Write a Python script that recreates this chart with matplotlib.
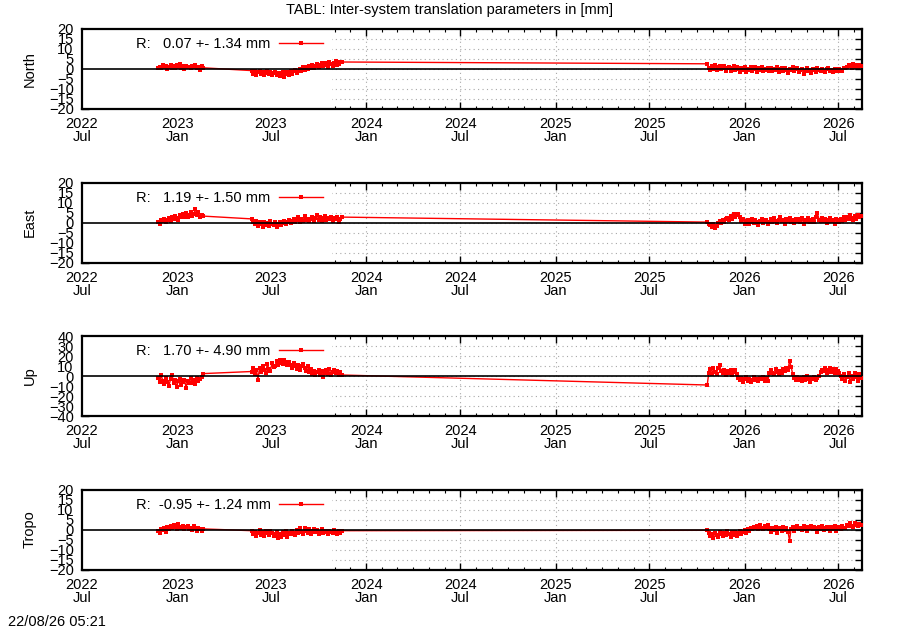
import numpy as np
import pandas as pd
import matplotlib
matplotlib.use('Agg')
import matplotlib.pyplot as plt
import matplotlib.dates as mdates

plt.rcParams['font.family'] = ['Liberation Sans', 'DejaVu Sans']

# three blocks of solutions, one sample every 3 days
seg_start = ['2022-11-25', '2023-05-25', '2025-10-21']
step_days = 3

north_a = [0.5, 1.2, 0.3, 1.8, 0.9, 1.5, 0.2, 1.1, 2.0, 0.7, 1.4, 0.4, 1.9, 1.0, 2.3,
           0.6, 1.3, 0.1, 1.7, 0.8, 1.2, 0.3, 1.6, 0.9, 2.1, 0.5, 1.0, -0.3, 1.4, 0.6]
north_b = [-0.8, -2.3, -1.2, -2.8, -1.6, -0.9, -2.5, -1.4, -3.0, -1.9, -1.1,
           -2.6, -1.5, -3.2, -2.0, -1.3, -2.9, -1.8, -3.6, -2.2, -1.4, -4.1, -2.5,
           -1.6, -3.0, -0.9, -2.4, -1.2, -0.5, -2.0, -0.8,
           0.2, -1.0, 0.8, -0.3, 1.2, 0.1, 1.6, 0.4, 2.0, 0.7, 1.5, 2.6, 0.9, 1.8, 2.9,
           1.4, 3.2, 2.0, 1.1, 3.6, 2.3, 1.5, 2.8, 3.9, 1.9, 2.6, 3.3, 3.5]
north_c = [2.6, 0.4, -0.6, 1.3, 0.2, 1.8, -0.4, 0.9, 1.5, -0.2,
           0.7, 1.6, -0.8, 0.5, 1.2, -1.0, 0.3, 1.4, -0.5, 0.8,
           0.1, -1.3, 0.6, -0.7, 0.9, -1.6, 0.2, -0.4, 1.1, -0.9,
           -0.2, 0.8, -1.4, 0.3, -0.6, 1.0, -1.1, 0.1, -0.3, 0.7,
           -0.8, 0.4, -1.2, 0.2, -0.5, 0.9, -1.5, -0.1, 0.6, -0.9,
           0.3, -0.6, -1.8, 0.1, -0.4, 0.8, -1.0, -0.2, 0.5, -1.3,
           -0.5, 0.2, -2.3, -0.8, 0.4, -1.1, -0.3, -1.9, 0.1, -0.7,
           -1.4, 0.3, -0.6, -1.2, 0.0, -0.9, -1.7, -0.2, 0.4, -1.0,
           -0.4, -1.5, 0.2, -0.8, -1.1, 0.1, -0.3, -1.2, 0.6, 0.3,
           0.9, 2.1, 1.4, 0.7, 2.5, 1.1, 1.9, 0.8, 2.2, 1.5]

east_a = [0.3, -0.5, 1.2, 0.6, 1.8, 0.2, 1.5, 2.4, 1.0, 2.9, 1.7, 3.3, 2.2, 1.4, 3.8,
          2.6, 4.2, 3.0, 4.9, 2.7, 3.6, 5.3, 3.1, 4.4, 6.8, 3.9, 5.1, 2.8, 4.0, 3.2]
east_b = [1.8, 0.2, -0.9, 0.6, -1.5, 0.1, -0.6, -2.0, 0.4, -1.1, -0.3, -1.8, 0.8, -0.7, -1.4,
          0.2, -2.2, -0.5, 0.5, -1.2,
          -0.2, 0.9, -0.8, 0.3, 1.4, -0.4, 0.7, 1.9, 0.1, 1.2, 2.6, 0.5, 1.6, 0.8, 3.2,
          1.1, 2.0, 0.6, 1.7, 2.8,
          1.0, 2.3, 3.9, 1.5, 2.6, 0.9, 2.1, 3.4, 1.3, 2.5, 1.8, 3.0, 0.7, 2.2, 1.6,
          2.9, 0.5, 1.9, 2.7]
east_c = [0.2, -0.6, -1.4, -2.3, -0.9, -2.8, -1.6, -0.4, 0.8, -0.3,
          1.2, 0.4, 1.6, 2.5, 1.1, 3.4, 2.0, 4.1, 2.8, 3.6,
          4.4, 2.6, 0.9, 1.8, -0.5, 0.7, 1.5, -0.8, 0.3, 1.9,
          -0.2, 1.1, 0.4, -1.2, 0.9, 2.0, -0.4, 0.6, 1.3, -0.9,
          0.5, 1.7, 0.2, 2.3, 0.8, -0.3, 1.5, 2.6, 0.6, 1.2,
          -0.6, 1.9, 0.7, 2.4, 0.1, 1.3, -0.4, 2.0, 0.9, 1.6,
          0.3, 2.2, -0.5, 1.4, 0.8, 2.5, 0.2, 1.1, 1.8, 0.4,
          2.7, 4.6, 1.5, 0.6, 2.1, 0.9, 1.7, -0.2, 1.3, 2.4,
          0.8, 1.5, -0.5, 2.0, 1.1, 0.4, 1.9, 0.7, 2.6, 1.2,
          2.9, 1.8, 3.6, 2.4, 1.3, 3.2, 2.0, 4.0, 2.7, 3.3]

up_a = [-1.5, -6.2, 0.8, -4.5, -8.3, -2.1, -5.7, -9.6, -3.2, 1.5, -7.4, -4.0, -10.8, -5.1, -2.6,
        -8.9, -6.3, -3.5, -11.5, -4.8, -7.0, -2.3, -6.6, -4.2, -8.1, -1.8, -5.0, -3.0, -0.5, 2.4]
up_b = [4.5, 7.8, 2.3, 6.0, -3.5,
        8.2, 4.1, 10.5, 6.3, 3.2, 11.8, 7.5, 5.0, 12.6, 8.9, 10.2,
        14.8, 11.3, 16.5, 13.0, 12.1, 15.7, 13.6, 10.9, 14.2,
        11.5, 8.0, 12.9, 9.6, 7.1, 11.0, 6.4, 9.8, 12.3, 7.7, 5.5, 10.1,
        4.2, 6.9, 2.1, 5.3, 0.8, 3.7, 6.2, 1.5, 4.6, -0.6, 3.0,
        5.8, 2.4, 7.3, 1.2, 4.0, 6.5, 2.8, 5.1, 0.9, 3.6, 1.0]
up_c = [-9.0, 3.5, 6.8, 1.9, 7.6, 4.2, 2.4, 8.5, 10.8, 5.1,
        3.0, 6.2, 1.4, 4.7, 2.6, 5.8, 0.9, 3.9, 6.5, 1.8,
        -1.6, -4.3, -2.0, -5.7, -3.1, -0.8, -4.9, -2.5, -6.2, -3.6,
        -1.2, -4.0, -2.8, -5.3, -1.9, -3.4, -0.6, -4.6, -2.2, -5.0,
        2.8, 5.6, 3.4, 1.7, 6.9, 4.1, 2.5, 5.3, 3.0, 7.2,
        4.6, 8.4, 6.0, 15.2, 9.3, 2.1, -1.5, -3.8, -0.7, -4.4,
        -2.0, -5.1, -1.1, -3.5, -0.4, -2.7, -6.0, -1.8, -3.2, -0.9,
        -4.2, -2.4, -0.3, 3.6, 6.4, 4.8, 7.9, 2.9, 5.7, 8.3,
        4.5, 6.6, 3.3, 7.1, 5.2, 2.6, 0.4, -3.1, 1.6, -4.8,
        -1.2, 2.7, -6.4, 0.5, -2.9, 3.4, -0.8, -5.2, 1.9, -1.6]

tropo_a = [-0.8, -1.5, 0.2, -0.4, 0.9, -1.1, 1.4, 0.5, 1.9, 0.8, 2.3, 1.2, 0.3, 2.6, 1.5,
           0.6, 1.8, 0.1, 1.3, 2.0, 0.4, 1.0, -0.3, 1.6, 0.7, -0.6, 0.9, 0.2, -0.5, 0.3]
tropo_b = [-0.6, -2.1, -1.0, -3.0, -1.5, -0.3, -2.6, -1.2, -3.4, -0.8, -1.9, -2.8, -0.5, -1.6, -3.2,
           -2.0, -1.1, -4.3, -2.4, -3.6, -1.3, -2.7, -0.9, -3.9, -1.7, -2.2, -0.6, -1.5, -2.9, -0.4,
           -1.8, 0.6, -1.0, -2.3, 0.9, -0.7, -1.6, 0.3, -2.0, -0.9, 0.5, -1.4, -0.3, -2.1, -1.1,
           0.2, -1.7, -0.8, -1.3, -2.4, -0.5, -1.0, -1.9, -0.4, -1.2, -2.2, -0.7, -1.5, -0.6]
tropo_c = [-0.4, -1.8, -3.1, -2.2, -4.0, -1.5, -2.7, -3.6, -1.0, -2.4,
           -3.3, -1.7, -2.9, -0.8, -2.0, -3.8, -1.4, -2.6, -1.1, -3.0,
           -1.9, -0.6, -2.3, -1.2, -0.3, -1.5, 0.4, -0.7, 0.9, 0.2,
           1.5, 0.6, 1.9, 0.3, 2.2, 1.0, 0.5, 1.7, 0.8, 2.4,
           0.1, -1.3, 0.7, -0.4, 1.2, -1.8, 0.3, 0.9, -0.6, 1.1,
           -0.2, 0.6, -1.0, -5.6, 0.4, 1.3, -0.5, 0.8, 1.6, 0.2,
           1.0, -0.3, 1.8, 0.5, -0.8, 1.2, 0.7, 1.9, 0.1, 1.4,
           0.6, -1.4, 1.1, 0.3, 1.7, -0.2, 0.9, 1.5, 0.4, -0.9,
           1.2, 0.5, 1.6, -0.6, 0.8, 1.3, 0.2, 1.9, 0.7, 1.0,
           2.4, 1.6, 3.1, 2.0, 1.4, 3.5, 2.2, 1.7, 2.9, 2.3]

panels = ['North', 'East', 'Up', 'Tropo']
blocks = {
    'North': [north_a, north_b, north_c],
    'East': [east_a, east_b, east_c],
    'Up': [up_a, up_b, up_c],
    'Tropo': [tropo_a, tropo_b, tropo_c],
}
key_labels = ['R:   0.07 +- 1.34 mm', 'R:   1.19 +- 1.50 mm',
              'R:   1.70 +- 4.90 mm', 'R:  -0.95 +- 1.24 mm']
y_limits = [20, 20, 40, 20]
y_steps = [5, 5, 10, 5]

title = 'TABL: Inter-system translation parameters in [mm]'
stamp = '22/08/26 05:21'
x_start = pd.Timestamp('2022-07-01')
x_end = pd.Timestamp('2026-08-16')
grid_from = pd.Timestamp('2023-10-27')


def get_series(segs):
    dates, vals = [], []
    for start, v in zip(seg_start, segs):
        dates.append(pd.date_range(start, periods=len(v), freq=f'{step_days}D'))
        vals.extend(v)
    return dates[0].append(dates[1:]), np.array(vals)


def draw_panel(fig, i, name):
    top = 29 + i * 153.5
    ax = fig.add_axes([82 / 900, 1 - (top + 80) / 630, 780 / 900, 80 / 630])
    dates, vals = get_series(blocks[name])

    ax.plot(dates, vals, color='red', lw=1.0, marker='s', ms=3.0, mew=0,
            label=key_labels[i], zorder=3)
    ax.axhline(0, color='black', lw=1.2, zorder=4)

    lim = y_limits[i]
    ax.set_xlim(x_start, x_end)
    ax.set_ylim(-lim, lim)
    ax.set_yticks(np.arange(-lim, lim + 1, y_steps[i]))
    ax.xaxis.set_major_locator(mdates.MonthLocator(bymonth=(1, 7)))
    ax.xaxis.set_minor_locator(mdates.MonthLocator())
    ax.xaxis.set_major_formatter(mdates.DateFormatter('%Y\n%b'))

    ax.grid(True, which='major', color='#a8a8a8', ls=(0, (1, 3)), lw=0.8)
    ax.set_axisbelow(True)
    # the key box hides the grid on the left part of each panel
    ax.axvspan(x_start, grid_from, color='white', lw=0, zorder=1)

    ax.tick_params(which='both', direction='in', top=True, right=True,
                   labelsize=10.5, colors='black')
    ax.tick_params(which='major', length=5, width=1)
    ax.tick_params(which='minor', length=2.5, width=0.8)
    ax.tick_params(axis='x', pad=6)
    ax.tick_params(axis='y', pad=6)
    for sp in ax.spines.values():
        sp.set_linewidth(1.6)

    ax.set_ylabel(name, fontsize=10.5)
    ax.yaxis.set_label_coords(-0.058, 0.5)

    ax.legend(loc='upper right', bbox_to_anchor=(0.309, 0.894), markerfirst=False,
              frameon=False, handlelength=3.0, handletextpad=0.6, borderpad=0,
              borderaxespad=0, fontsize=10.5)
    return ax


fig = plt.figure(figsize=(9, 6.3), dpi=100)
axes = [draw_panel(fig, i, name) for i, name in enumerate(panels)]
fig.text(0.5, 1 - 10 / 630, title, ha='center', va='center', fontsize=10.5)
fig.text(8 / 900, 1 - 622 / 630, stamp, ha='left', va='center', fontsize=10.5)

fig.canvas.draw()
for ax in axes:
    for lab in ax.get_xticklabels():
        lab.set_linespacing(0.9)

fig.savefig('out.png', dpi=100)
